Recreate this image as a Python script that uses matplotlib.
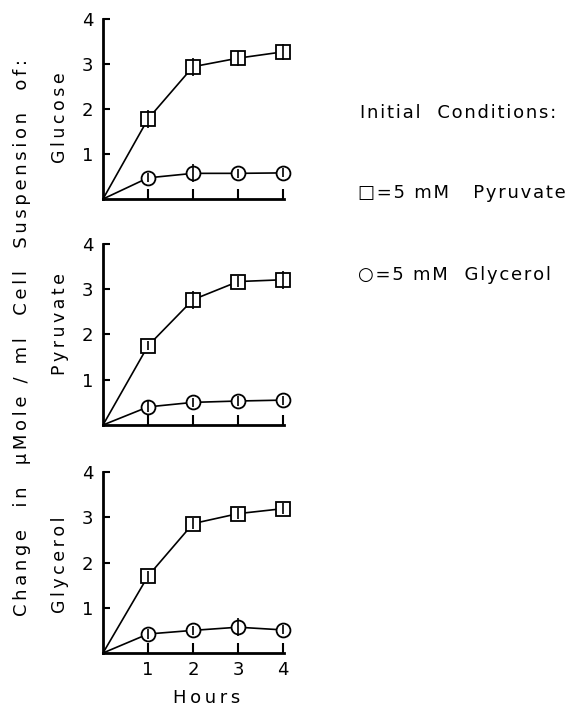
import matplotlib
matplotlib.use("Agg")
import matplotlib.pyplot as plt

plt.rcParams['font.family'] = ['DejaVu Sans']

hours = [0, 1, 2, 3, 4]
hour_ticks = [1, 2, 3, 4]
y_ticks = [1, 2, 3, 4]
panel_names = ["Glucose", "Pyruvate", "Glycerol"]

# square = 5 mM pyruvate initial, circle = 5 mM glycerol initial
glucose_sq = [0, 1.78, 2.94, 3.13, 3.27]
glucose_ci = [0, 0.47, 0.57, 0.57, 0.58]
glucose_sq_err = [0, 0.20, 0.20, 0.17, 0.17]
glucose_ci_err = [0, 0.10, 0.20, 0.10, 0.10]

pyruvate_sq = [0, 1.75, 2.77, 3.17, 3.21]
pyruvate_ci = [0, 0.40, 0.50, 0.53, 0.55]
pyruvate_sq_err = [0, 0.10, 0.20, 0.12, 0.20]
pyruvate_ci_err = [0, 0.12, 0.10, 0.10, 0.10]

glycerol_sq = [0, 1.70, 2.86, 3.08, 3.19]
glycerol_ci = [0, 0.42, 0.50, 0.57, 0.51]
glycerol_sq_err = [0, 0.12, 0.12, 0.12, 0.12]
glycerol_ci_err = [0, 0.12, 0.10, 0.20, 0.10]

series = [
    (glucose_sq, glucose_sq_err, glucose_ci, glucose_ci_err),
    (pyruvate_sq, pyruvate_sq_err, pyruvate_ci, pyruvate_ci_err),
    (glycerol_sq, glycerol_sq_err, glycerol_ci, glycerol_ci_err),
]

def spaced(s, sp='\u2009'):
    return sp.join(list(s))

W, H = 569, 709
fig = plt.figure(figsize=(W / 100, H / 100), dpi=100)

# pixel layout of the three panels (top px of y=4, bottom px of y=0)
panel_px = [(19, 199), (244, 425), (472, 653)]
left_px, right_px = 103, 284
name_y = [0.45, 0.56, 0.49]

for i, ((top, bot), name, (sq, sqe, ci, cie)) in enumerate(zip(panel_px, panel_names, series)):
    ax = fig.add_axes([left_px / W, 1 - bot / H, (right_px - left_px) / W, (bot - top) / H])
    ax.plot(hours, sq, color='black', lw=1.2, marker='s', ms=9.5, mfc='white',
            mec='black', mew=1.3, markevery=[1, 2, 3, 4], zorder=3, clip_on=False)
    ax.plot(hours, ci, color='black', lw=1.2, marker='o', ms=10, mfc='white',
            mec='black', mew=1.3, markevery=[1, 2, 3, 4], zorder=3, clip_on=False)
    ax.errorbar(hours[1:], sq[1:], yerr=sqe[1:], fmt='none', ecolor='black',
                elinewidth=1.2, capsize=0, zorder=4, clip_on=False)
    ax.errorbar(hours[1:], ci[1:], yerr=cie[1:], fmt='none', ecolor='black',
                elinewidth=1.2, capsize=0, zorder=4, clip_on=False)
    ax.set_xlim(0, 4.02)
    ax.set_ylim(0, 4)
    ax.set_xticks(hour_ticks)
    ax.set_yticks(y_ticks)
    ax.set_yticklabels([str(t) for t in y_ticks], fontsize=13)
    if i == 2:
        ax.set_xticklabels([str(t) for t in hour_ticks], fontsize=13)
    else:
        ax.set_xticklabels([])
    ax.tick_params(axis='both', direction='in', length=5, width=1.5)
    ax.tick_params(axis='x', length=7, pad=6)
    ax.tick_params(axis='y', pad=7)
    for s in ['top', 'right']:
        ax.spines[s].set_visible(False)
    for s in ['left', 'bottom']:
        ax.spines[s].set_linewidth(2.0)
    ax.text(-0.24, name_y[i], spaced(name), transform=ax.transAxes, rotation=90,
            ha='center', va='center', fontsize=12.5)
    if i == 2:
        ax.text(0.57, -0.25, spaced("Hours"), transform=ax.transAxes,
                ha='center', va='center', fontsize=13)

fig.text(22 / W, 1 - 338 / H,
         spaced("Change  in  \u03bcMole / ml  Cell  Suspension  of:"),
         rotation=90, ha='center', va='center', fontsize=13)

hs = '\u200a'
fig.text(360 / W, 1 - 113 / H, spaced("Initial  Conditions:", hs), ha='left', va='center', fontsize=13)
fig.text(358 / W, 1 - 193 / H, spaced("\u25a1=5 mM   Pyruvate", hs), ha='left', va='center', fontsize=13)
fig.text(358 / W, 1 - 275 / H, spaced("\u25cb=5 mM  Glycerol", hs), ha='left', va='center', fontsize=13)

fig.savefig("out.png", dpi=100, facecolor='white')
